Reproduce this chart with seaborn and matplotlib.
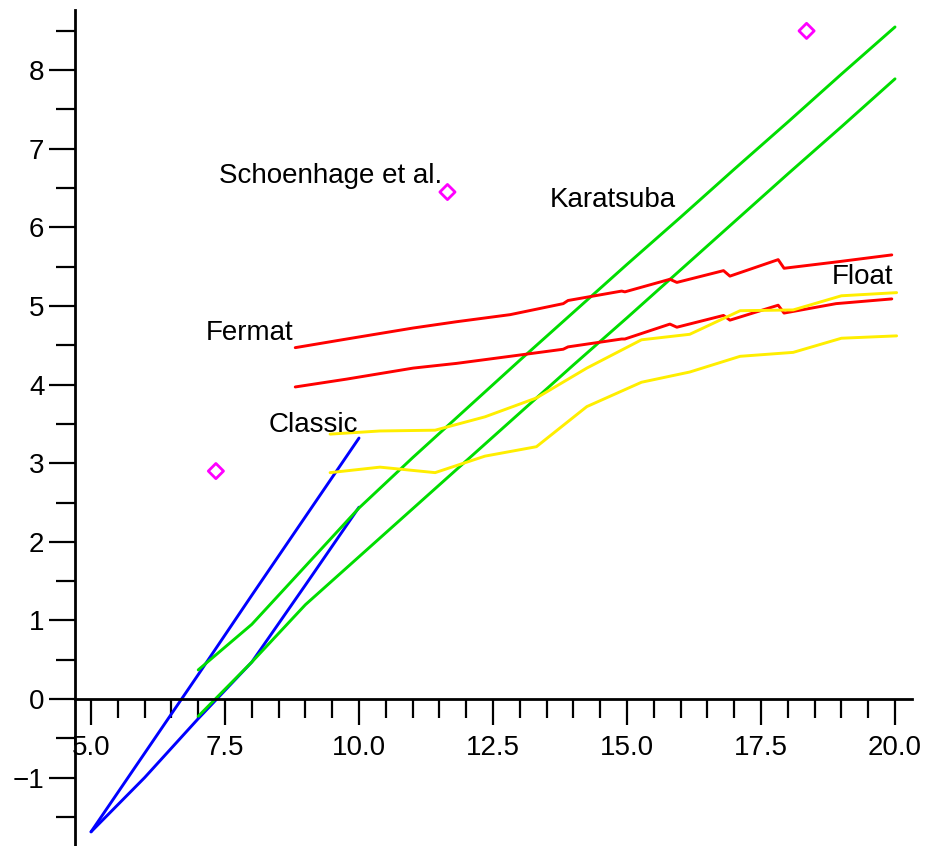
import numpy as np
import pandas as pd
import seaborn as sns
import matplotlib.pyplot as plt
from matplotlib.ticker import FixedLocator

sns.set_style("white")
plt.rcParams["font.family"] = ["Liberation Sans", "DejaVu Sans"]
plt.rcParams["text.color"] = "black"

# Classic
classic_x = [5, 6, 7, 8, 9, 10]
classic_a = [-1.69, -0.69, 0.31, 1.32, 2.32, 3.32]
classic_b = [-1.69, -1.0, -0.25, 0.47, 1.45, 2.44]

# Karatsuba
kara_x = [7, 8, 9, 10, 11, 12, 13, 14, 15, 16, 17, 18, 19, 20]
kara_a = [0.37, 0.95, 1.69, 2.43, 3.07, 3.69, 4.31, 4.92, 5.53, 6.13, 6.74, 7.34, 7.95, 8.55]
kara_b = [-0.22, 0.47, 1.2, 1.81, 2.42, 3.03, 3.64, 4.25, 4.85, 5.46, 6.07, 6.68, 7.28, 7.89]

# Fermat
fermat_x = [8.81, 9.77, 11.01, 11.82, 12.82, 13.81, 13.9, 14.9, 14.96, 15.8, 15.93,
            16.8, 16.92, 17.82, 17.93, 18.9, 19.94]
fermat_a = [4.47, 4.58, 4.72, 4.80, 4.89, 5.03, 5.07, 5.19, 5.18, 5.34, 5.30,
            5.45, 5.38, 5.59, 5.48, 5.56, 5.65]
fermat_b = [3.97, 4.07, 4.21, 4.27, 4.36, 4.45, 4.48, 4.58, 4.58, 4.77, 4.73,
            4.88, 4.82, 5.01, 4.91, 5.03, 5.09]

# Float
float_x = [9.46, 10.39, 11.42, 12.35, 13.31, 14.25, 15.27, 16.17, 17.11, 18.1, 19.0, 20.03]
float_a = [3.37, 3.41, 3.42, 3.59, 3.83, 4.21, 4.57, 4.64, 4.94, 4.95, 5.13, 5.17]
float_b = [2.88, 2.95, 2.88, 3.09, 3.21, 3.72, 4.03, 4.16, 4.36, 4.41, 4.59, 4.62]

# Schoenhage et al.
schoen_x = [7.33, 11.65, 18.35]
schoen_y = [2.90, 6.45, 8.50]

labels = ["Schoenhage et al.", "Karatsuba", "Fermat", "Classic", "Float"]
label_x = [9.47, 14.73, 7.95, 9.15, 19.40]
label_y = [6.56, 6.26, 4.57, 3.40, 5.28]

xticks = [5.0, 7.5, 10.0, 12.5, 15.0, 17.5, 20.0]
yticks = [-1, 0, 1, 2, 3, 4, 5, 6, 7, 8]

fig = plt.figure(figsize=(9.29, 8.46), dpi=100)
ax = fig.add_axes([0, 0, 1, 1])
ax.patch.set_alpha(0)

lw = 2.1
for y in (classic_a, classic_b):
    sns.lineplot(x=classic_x, y=y, color="#0000ff", linewidth=lw, ax=ax)
for y in (kara_a, kara_b):
    sns.lineplot(x=kara_x, y=y, color="#00dd00", linewidth=lw, ax=ax)
for y in (fermat_a, fermat_b):
    sns.lineplot(x=fermat_x, y=y, color="#ff0000", linewidth=lw, ax=ax, sort=False)
for y in (float_a, float_b):
    sns.lineplot(x=float_x, y=y, color="#ffee00", linewidth=lw, ax=ax)
sns.scatterplot(x=schoen_x, y=schoen_y, marker="D", s=60, facecolor="none",
                edgecolor="#ff00ff", linewidth=2, ax=ax)

for t, x, y in zip(labels, label_x, label_y):
    ax.text(x, y, t, ha="center", va="baseline", fontsize=20, color="black")

ax.set_xlim(3.302, 20.634)
ax.set_ylim(-1.870, 8.893)

for s in ["top", "right"]:
    ax.spines[s].set_visible(False)
ax.spines["left"].set_position(("data", 4.7))
ax.spines["bottom"].set_position(("data", 0))
ax.spines["left"].set_bounds(-1.87, 8.77)
ax.spines["bottom"].set_bounds(4.7, 20.32)
for s in ["left", "bottom"]:
    ax.spines[s].set_linewidth(2)
    ax.spines[s].set_color("black")

ax.set_xticks(xticks, labels=[f"{v:.1f}" for v in xticks])
ax.set_yticks(yticks, labels=[str(v).replace("-", "\u2212") for v in yticks])
ax.xaxis.set_minor_locator(FixedLocator(np.arange(5.0, 20.01, 0.5)))
ax.yaxis.set_minor_locator(FixedLocator(np.arange(-1.5, 8.51, 0.5)))
ax.tick_params(which="major", direction="out", length=19, width=1.6, labelsize=20,
               color="black", labelcolor="black", bottom=True, left=True)
ax.tick_params(which="minor", direction="out", length=13.5, width=1.6,
               color="black", bottom=True, left=True)
ax.tick_params(axis="x", pad=7)
ax.tick_params(axis="y", pad=3)
ax.set_xlabel("")
ax.set_ylabel("")
ax.grid(False)

fig.savefig("out.png", dpi=100)
